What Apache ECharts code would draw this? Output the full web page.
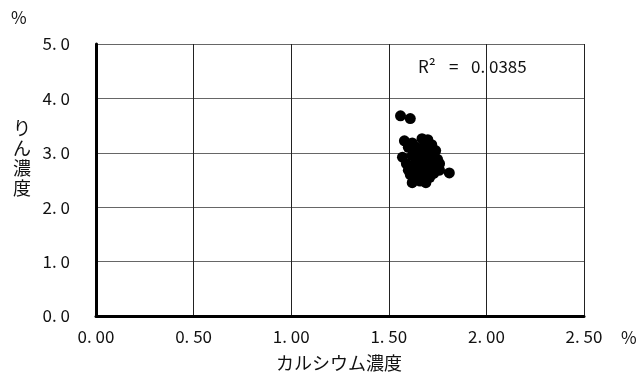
<!DOCTYPE html>
<html>
<head>
<meta charset="utf-8">
<script src="https://cdn.jsdelivr.net/npm/echarts@6/dist/echarts.min.js"></script>
<style>
  html, body { margin: 0; padding: 0; background: #fff; }
  #chart { width: 642px; height: 374px; }
</style>
</head>
<body>
<div id="chart"></div>
<script>
// Calcium concentration (%) per sample
const calcium = [
  1.56, 1.61, 1.58, 1.62, 1.67, 1.70, 1.72, 1.57, 1.59, 1.60,
  1.61, 1.62, 1.63, 1.63, 1.64, 1.64, 1.65, 1.65, 1.66, 1.66,
  1.66, 1.67, 1.67, 1.68, 1.68, 1.68, 1.69, 1.69, 1.70, 1.70,
  1.70, 1.71, 1.71, 1.72, 1.72, 1.73, 1.73, 1.74, 1.74, 1.75,
  1.76, 1.76, 1.68, 1.64, 1.81, 1.62, 1.60
];
// Phosphorus concentration (%) per sample
const phosphorus = [
  3.68, 3.63, 3.22, 3.18, 3.26, 3.24, 3.15, 2.92, 2.80, 2.68,
  2.60, 2.95, 3.05, 2.75, 2.85, 2.55, 3.00, 2.70, 2.90, 2.48,
  2.62, 2.80, 3.08, 2.95, 2.72, 2.58, 2.85, 2.45, 3.02, 2.65,
  2.78, 2.90, 2.55, 2.70, 2.98, 2.82, 2.62, 3.04, 2.75, 2.88,
  2.80, 2.68, 3.12, 3.10, 2.63, 2.45, 3.10
];
const rSquared = '0.0385';

const FONT = '"Noto Sans CJK JP", "Noto Sans", sans-serif';
const fmt = (v, d) => v.toFixed(d).replace('.', '. ');

const points = calcium.map((x, i) => [x, phosphorus[i]]);

const chart = echarts.init(document.getElementById('chart'), null, { renderer: 'canvas' });
chart.setOption({
  animation: false,
  grid: { left: 96, top: 44, right: 58, bottom: 58, show: false },
  xAxis: {
    type: 'value', min: 0, max: 2.5, interval: 0.5,
    axisLine: { show: true, onZero: false, lineStyle: { color: '#000', width: 3 } },
    axisTick: { show: false },
    axisLabel: { color: '#111', fontFamily: FONT, fontSize: 17, margin: 12,
      formatter: v => fmt(v, 2) },
    splitLine: { show: true, lineStyle: { color: '#222', width: 1 } }
  },
  yAxis: {
    type: 'value', min: 0, max: 5, interval: 1,
    axisLine: { show: true, onZero: false, lineStyle: { color: '#000', width: 3 } },
    axisTick: { show: false },
    axisLabel: { color: '#111', fontFamily: FONT, fontSize: 17, margin: 26,
      formatter: v => fmt(v, 1) },
    splitLine: { show: true, lineStyle: { color: '#666', width: 1 } }
  },
  graphic: [
    { type: 'text', left: 11, top: 9,
      style: { text: '%', font: '17px ' + FONT, fill: '#111' } },
    { type: 'text', left: 621, top: 329,
      style: { text: '%', font: '17px ' + FONT, fill: '#111' } },
    { type: 'text', left: 13, top: 118,
      style: { text: 'り\nん\n濃\n度', font: '18px ' + FONT, fill: '#111', lineHeight: 20 } },
    { type: 'text', left: 276, top: 354,
      style: { text: 'カルシウム濃度', font: '18px ' + FONT, fill: '#111' } },
    // regression fit statistic
    { type: 'text', left: 418, top: 58,
      style: { text: 'R\u00B2', font: '17px ' + FONT, fill: '#111' } },
    { type: 'text', left: 449, top: 58,
      style: { text: '=', font: '17px ' + FONT, fill: '#111' } },
    { type: 'text', left: 471, top: 58,
      style: { text: rSquared.replace('.', '. '), font: '17px ' + FONT, fill: '#111' } }
  ],
  series: [{
    type: 'scatter',
    data: points,
    symbol: 'circle',
    symbolSize: 11,
    itemStyle: { color: '#000', opacity: 1 }
  }]
});
</script>
</body>
</html>
